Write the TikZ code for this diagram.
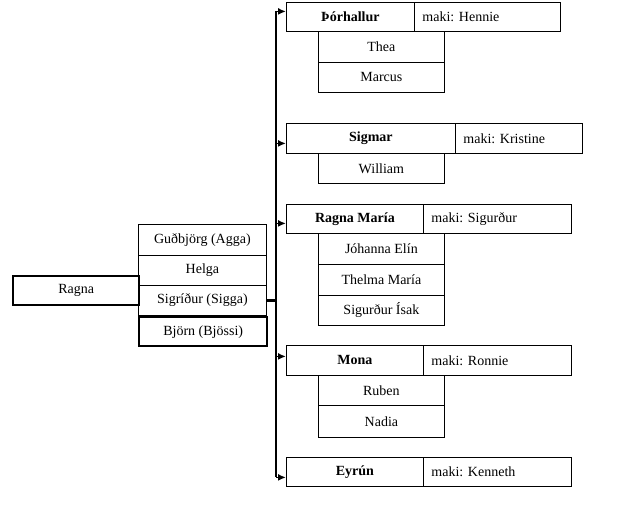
\documentclass[tikz,border=0pt]{standalone}
\usepackage{fontspec}
\setmainfont{Liberation Serif}
\usetikzlibrary{arrows.meta}

\begin{document}
\begin{tikzpicture}[x=1pt, y=-1pt, >={Latex[length=8pt, width=7pt]},
	every node/.style={font=\fontsize{14}{16}\selectfont\frenchspacing},
	cell/.style={draw, line width=0.8pt, inner sep=0pt, anchor=north west, minimum height=#1},
	cell/.default=30pt,
	heavy/.style={line width=2.4pt},
	makibox/.style={cell, inner xsep=8pt, align=left, text width=#1},
	headbox/.style={cell=#1, font=\fontsize{14}{16}\selectfont\bfseries},
	headbox/.default=30pt,
	arr/.style={->, line width=1.8pt}]
	\useasboundingbox (0,0) rectangle (642,525);

	\node[cell=29pt, heavy, minimum width=126pt] (ragna) at (12,275) {Ragna};
	\node[cell=31pt, minimum width=128pt] (gudbjorg) at (138,224) {Guðbjörg (Agga)};
	\node[cell, minimum width=128pt] (helga) at (138,255) {Helga};
	\node[cell, minimum width=128pt] (sigridur) at (138,285) {Sigríður (Sigga)};
	\node[cell=29pt, heavy, minimum width=128pt] (bjorn) at (138,316) {Björn (Bjössi)};

	\node[headbox=29pt, minimum width=128pt] (thorhallur) at (286,2) {Þórhallur};
	\node[makibox=130pt, minimum height=29pt] (hennie) at (414,2) {maki: Hennie};
	\node[cell=31pt, minimum width=126pt] (thea) at (318,31) {Thea};
	\node[cell, minimum width=126pt] (marcus) at (318,62) {Marcus};

	\node[headbox, minimum width=169pt] (sigmar) at (286,123) {Sigmar};
	\node[makibox=111pt, minimum height=30pt] (kristine) at (455,123) {maki: Kristine};
	\node[cell, minimum width=126pt] (william) at (318,153) {William};

	\node[headbox=29pt, minimum width=137pt] (ragnamaria) at (286,204) {Ragna María};
	\node[makibox=132pt, minimum height=29pt] (sigurdur) at (423,204) {maki: Sigurður};
	\node[cell=31pt, minimum width=126pt] (johanna) at (318,233) {Jóhanna Elín};
	\node[cell=31pt, minimum width=126pt] (thelma) at (318,264) {Thelma María};
	\node[cell, minimum width=126pt] (isak) at (318,295) {Sigurður Ísak};

	\node[headbox, minimum width=137pt] (mona) at (286,345) {Mona};
	\node[makibox=132pt, minimum height=30pt] (ronnie) at (423,345) {maki: Ronnie};
	\node[cell, minimum width=126pt] (ruben) at (318,375) {Ruben};
	\node[cell=32pt, minimum width=126pt] (nadia) at (318,405) {Nadia};

	\node[headbox=29pt, minimum width=137pt] (eyrun) at (286,457) {Eyrún};
	\node[makibox=132pt, minimum height=29pt] (kenneth) at (423,457) {maki: Kenneth};

	\coordinate (top) at (276,11);
	\coordinate (bottom) at (276,477);
	\draw[heavy] (sigridur.east) -- (sigridur.east -| top);
	\draw[heavy] (top) -- (bottom);
	\foreach \n/\d in {thorhallur/5.5, sigmar/-5, ragnamaria/-4.5, mona/4, eyrun/-5.5} {
		\coordinate (tip) at ([yshift=\d pt]\n.west);
		\draw[arr] (tip -| top) -- (tip);
	}
\end{tikzpicture}
\end{document}
